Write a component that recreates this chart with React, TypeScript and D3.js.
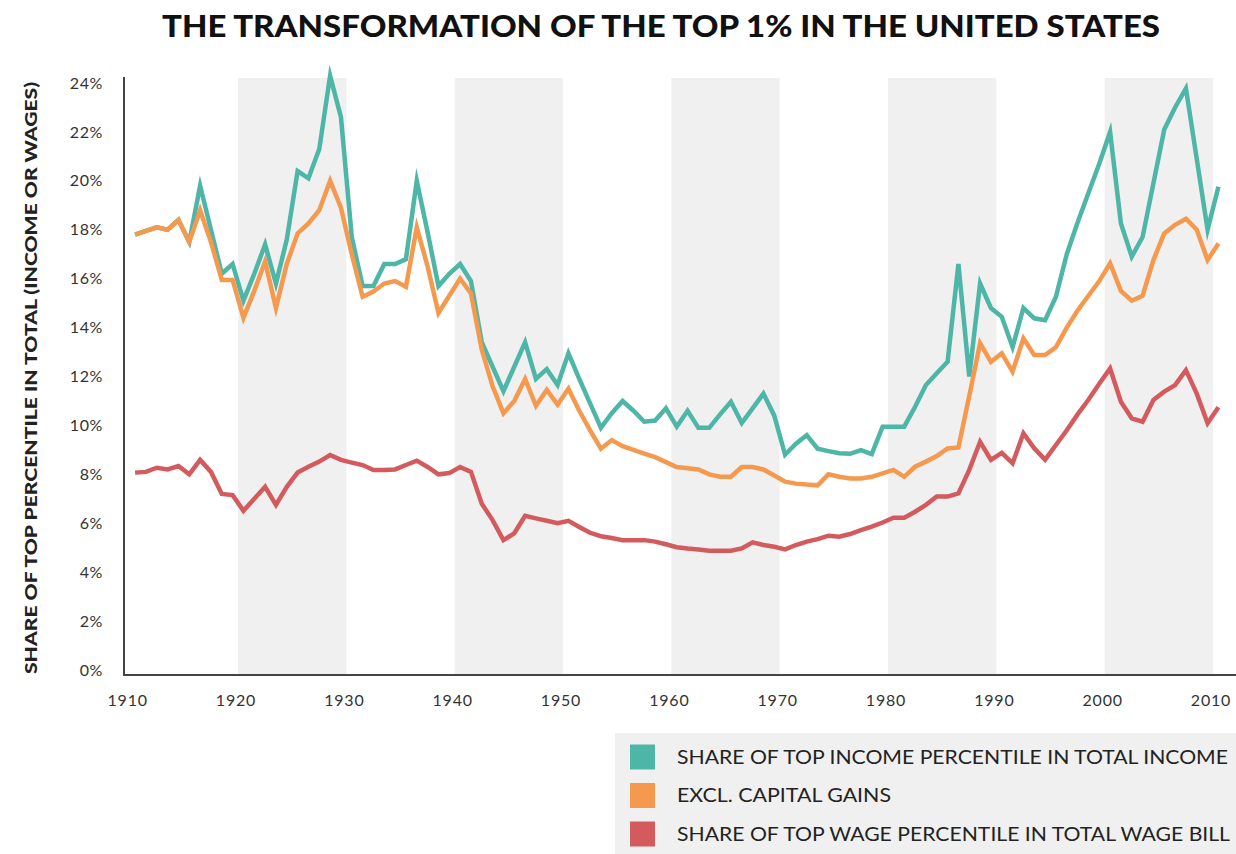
import React from "react";
import * as d3 from "d3";

const years: number[] = d3.range(1910, 2011);

const incomeShare: number[] = [
  17.8, 17.95, 18.1, 18.0, 18.4, 17.5, 19.8, 18.0, 16.2, 16.6,
  15.1, 16.2, 17.4, 15.8, 17.6, 20.4, 20.1, 21.3, 24.3, 22.6,
  17.7, 15.7, 15.7, 16.6, 16.6, 16.8, 20.0, 17.9, 15.7, 16.2,
  16.6, 15.9, 13.4, 12.4, 11.4, 12.4, 13.4, 11.9, 12.3, 11.65,
  12.95, 11.9, 10.9, 9.9, 10.5, 11.0, 10.6, 10.15, 10.2, 10.7,
  9.95, 10.6, 9.9, 9.9, 10.45, 10.97, 10.1, 10.7, 11.3, 10.4,
  8.8, 9.25, 9.6, 9.05, 8.95, 8.86, 8.84, 8.99, 8.83, 9.95,
  9.95, 9.95, 10.76, 11.65, 12.13, 12.6, 16.6, 12.0, 15.8, 14.8,
  14.44, 13.2, 14.8, 14.38, 14.3, 15.26, 17.0, 18.3, 19.5, 20.7,
  22.0, 18.26, 16.9, 17.7, 19.9, 22.1, 23.0, 23.78, 20.9, 18.0,
  19.76,
];

const exclCapitalGains: number[] = [
  17.8, 17.95, 18.1, 18.0, 18.4, 17.5, 18.8, 17.5, 15.95, 15.95,
  14.4, 15.5, 16.7, 14.8, 16.6, 17.85, 18.26, 18.8, 20.0, 18.9,
  17.0, 15.26, 15.47, 15.8, 15.9, 15.67, 18.1, 16.5, 14.6, 15.3,
  16.0, 15.4, 13.1, 11.6, 10.5, 11.0, 11.9, 10.8, 11.45, 10.85,
  11.5, 10.6, 9.8, 9.05, 9.4, 9.15, 9.0, 8.85, 8.7, 8.5,
  8.3, 8.25, 8.2, 8.0, 7.9, 7.9, 8.3, 8.3, 8.2, 7.95,
  7.7, 7.62, 7.58, 7.55, 8.0, 7.9, 7.83, 7.83, 7.9, 8.04,
  8.18, 7.9, 8.31, 8.52, 8.75, 9.06, 9.1, 11.2, 13.36, 12.6,
  12.95, 12.2, 13.56, 12.88, 12.88, 13.2, 14.0, 14.7, 15.3, 15.9,
  16.63, 15.5, 15.1, 15.3, 16.76, 17.85, 18.2, 18.45, 18.0, 16.76,
  17.44,
];

const wageShare: number[] = [
  8.07, 8.1, 8.27, 8.2, 8.34, 8.0, 8.59, 8.1, 7.2, 7.15,
  6.51, 7.0, 7.49, 6.75, 7.49, 8.07, 8.31, 8.52, 8.79, 8.59,
  8.48, 8.38, 8.18, 8.18, 8.2, 8.38, 8.56, 8.3, 8.0, 8.05,
  8.3, 8.1, 6.8, 6.13, 5.31, 5.59, 6.3, 6.2, 6.1, 6.0,
  6.1, 5.85, 5.61, 5.47, 5.4, 5.31, 5.31, 5.31, 5.25, 5.14,
  5.02, 4.97, 4.93, 4.88, 4.88, 4.88, 4.97, 5.22, 5.11, 5.04,
  4.93, 5.11, 5.25, 5.35, 5.49, 5.45, 5.56, 5.72, 5.86, 6.03,
  6.23, 6.23, 6.47, 6.75, 7.09, 7.09, 7.22, 8.18, 9.33, 8.59,
  8.88, 8.45, 9.68, 9.06, 8.6, 9.2, 9.8, 10.45, 11.05, 11.7,
  12.33, 10.97, 10.29, 10.15, 11.04, 11.38, 11.65, 12.26, 11.3, 10.09,
  10.74,
];

const yTicks: number[] = [0, 2, 4, 6, 8, 10, 12, 14, 16, 18, 20, 22, 24];
const xTicks: number[] = [1910, 1920, 1930, 1940, 1950, 1960, 1970, 1980, 1990, 2000, 2010];
const bandStarts: number[] = [1920, 1940, 1960, 1980, 2000];

const seriesNames: string[] = [
  "SHARE OF TOP INCOME PERCENTILE IN TOTAL INCOME",
  "EXCL. CAPITAL GAINS",
  "SHARE OF TOP WAGE PERCENTILE IN TOTAL WAGE BILL",
];
const legendTextWidths: number[] = [551, 214, 553];
const seriesColors: string[] = ["#4db6a6", "#f4994d", "#d35b5e"];

const title = "THE TRANSFORMATION OF THE TOP 1% IN THE UNITED STATES";
const yTitle = "SHARE OF TOP PERCENTILE IN TOTAL (INCOME OR WAGES)";

const FONT = "Lato, 'Open Sans', sans-serif";

export default function App() {
  const W = 1236;
  const H = 854;
  const axisX = 124;
  const axisY = 675;
  const plotTop = 78;

  const x = d3.scaleLinear().domain([1910, 2010]).range([129.7, 1213]);
  const y = d3.scaleLinear().domain([0, 24]).range([670, 83]);

  const line = d3
    .line<number>()
    .x((_, i) => x(years[i] + 0.5))
    .y((d) => y(d));

  const seriesData = [incomeShare, exclCapitalGains, wageShare];
  const drawOrder = [0, 2, 1];

  return (
    <svg
      width={W}
      height={H}
      viewBox={`0 0 ${W} ${H}`}
      style={{ position: "absolute", left: 0, top: 0, background: "#fff" }}
    >
      <rect x={0} y={0} width={W} height={H} fill="#fff" />
      <text
        x={661}
        y={37}
        textAnchor="middle"
        fontFamily={FONT}
        fontWeight={900}
        fontSize={30}
        fill="#111"
        textLength={998}
        lengthAdjust="spacingAndGlyphs"
      >
        {title}
      </text>

      {bandStarts.map((b) => (
        <rect
          key={b}
          x={x(b)}
          y={plotTop}
          width={x(b + 10) - x(b)}
          height={axisY - plotTop}
          fill="#f0f0f0"
        />
      ))}

      {yTicks.map((t) => (
        <text
          key={t}
          x={103}
          y={y(t)}
          dy="0.35em"
          textAnchor="end"
          fontFamily={FONT}
          fontSize={16}
          letterSpacing={0.6}
          fill="#333"
        >
          {t}%
        </text>
      ))}

      {xTicks.map((t) => (
        <text
          key={t}
          x={x(t) - 2}
          y={700}
          dy="0.35em"
          textAnchor="middle"
          fontFamily={FONT}
          fontSize={16}
          letterSpacing={0.8}
          fill="#333"
        >
          {t}
        </text>
      ))}

      <text
        transform={`translate(31, 378) rotate(-90)`}
        textAnchor="middle"
        dy="0.35em"
        fontFamily={FONT}
        fontWeight={900}
        fontSize={17}
        fill="#222"
        textLength={592}
        lengthAdjust="spacingAndGlyphs"
      >
        {yTitle}
      </text>

      {drawOrder.map((si) => (
        <path
          key={si}
          d={line(seriesData[si]) || ""}
          fill="none"
          stroke={seriesColors[si]}
          strokeWidth={4.5}
          strokeLinejoin="miter"
          strokeMiterlimit={6}
        />
      ))}

      <line x1={axisX} y1={77} x2={axisX} y2={axisY + 1} stroke="#444" strokeWidth={2} />
      <line x1={axisX - 1} y1={axisY} x2={1236} y2={axisY} stroke="#444" strokeWidth={2} />

      <rect x={615} y={733} width={W - 615} height={H - 733} fill="#f0f0f0" />
      {seriesNames.map((name, i) => {
        const cy = 757 + i * 38.5;
        return (
          <g key={name}>
            <rect x={630} y={cy - 12.5} width={25} height={25} fill={seriesColors[i]} />
            <text
              x={677}
              y={cy}
              dy="0.35em"
              fontFamily={FONT}
              fontSize={19}
              fill="#222"
              textLength={legendTextWidths[i]}
              lengthAdjust="spacingAndGlyphs"
            >
              {name}
            </text>
          </g>
        );
      })}
    </svg>
  );
}
